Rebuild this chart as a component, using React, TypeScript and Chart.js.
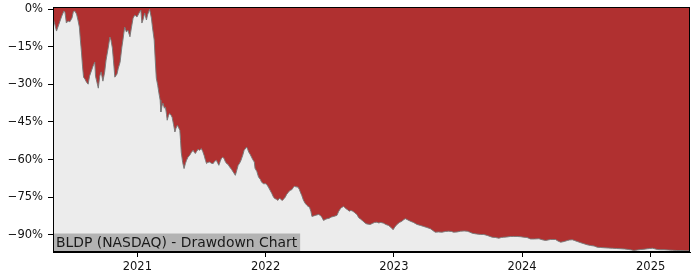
import React, { useEffect, useRef } from "react";
import { Chart, registerables } from "chart.js";

Chart.register(...registerables);

// Days since 2021-01-01
const dayOffsets = [
  -239, -235, -230, -226, -220, -215, -209, -206, -202, -197,
  -192, -186, -182, -178, -173, -169, -165, -162, -159, -156,
  -153, -149, -145, -140, -136, -132, -126, -121, -119, -115,
  -111, -107, -103, -98, -93, -89, -83, -78, -75, -71,
  -68, -64, -58, -54, -49, -44, -41, -36, -31, -27,
  -21, -17, -12, -7, -1, 5, 10, 13, 16, 21,
  26, 29, 35, 40, 43, 48, 51, 54, 58, 61,
  65, 67, 70, 73, 77, 80, 83, 85, 89, 92,
  96, 99, 103, 107, 110, 114, 117, 121, 123, 125,
  129, 133, 137, 140, 144, 149, 154, 159, 162, 165,
  169, 173, 177, 182, 186, 190, 194, 197, 201, 206,
  211, 216, 220, 225, 229, 232, 236, 239, 243, 247,
  250, 254, 258, 263, 268, 273, 279, 283, 287, 291,
  295, 300, 304, 311, 314, 317, 321, 325, 328, 333,
  335, 340, 345, 350, 354, 360, 364, 368, 373, 378,
  383, 388, 392, 397, 400, 404, 407, 410, 413, 418,
  421, 425, 430, 435, 440, 444, 447, 452, 457, 461,
  464, 468, 473, 478, 483, 486, 490, 494, 497, 502,
  506, 511, 516, 521, 525, 530, 535, 540, 545, 549,
  553, 559, 563, 568, 573, 578, 582, 587, 590, 594,
  599, 603, 608, 613, 618, 620, 625, 630, 635, 640,
  645, 651, 657, 663, 669, 675, 682, 687, 693, 701,
  707, 715, 722, 728, 733, 739, 746, 753, 759, 763,
  770, 777, 786, 796, 806, 815, 824, 834, 841, 848,
  857, 867, 877, 886, 894, 900, 910, 920, 930, 939,
  945, 953, 965, 977, 986, 996, 1004, 1010, 1019, 1029,
  1036, 1043, 1052, 1062, 1071, 1081, 1091, 1100, 1109, 1119,
  1130, 1143, 1152, 1162, 1169, 1176, 1183, 1190, 1197, 1205,
  1215, 1224, 1230, 1238, 1244, 1252, 1262, 1271, 1280, 1290,
  1300, 1309, 1319, 1328, 1340, 1352, 1364, 1376, 1387, 1399,
  1407, 1413, 1423, 1433, 1442, 1452, 1458, 1466, 1472, 1480,
  1490, 1499, 1511, 1523, 1535, 1547, 1558, 1571,
];

// Drawdown from running peak, percent
const drawdownPct = [
  -3.9, -5.9, -8.7, -7.1, -4.7, -2.7, -0.7, -1.1, -5.5, -4.7,
  -5.0, -3.5, -0.9, -0.7, -1.9, -4.3, -7.1, -12.3, -17.1, -22.7,
  -27.1, -27.9, -29.0, -29.9, -26.7, -25.1, -22.7, -21.1, -26.7, -29.1,
  -31.5, -26.7, -25.0, -28.7, -25.1, -20.3, -15.5, -11.1, -12.3, -15.5,
  -20.3, -27.1, -25.9, -23.5, -21.1, -15.1, -12.3, -7.1, -9.1, -8.3,
  -11.0, -7.5, -3.5, -2.3, -3.1, -1.5, -0.3, -5.5, -4.3, -1.5,
  -4.3, -2.3, 0, -3.5, -7.1, -12.3, -20.3, -27.5, -30.3, -33.1,
  -36.3, -41.0, -38.7, -37.5, -39.5, -39.0, -41.9, -44.3, -42.3, -41.6,
  -42.3, -43.1, -45.9, -49.0, -47.5, -46.3, -47.1, -48.3, -52.3, -57.1,
  -61.1, -63.6, -61.5, -60.3, -59.1, -58.3, -57.1, -56.3, -57.1, -57.6,
  -56.7, -55.9, -56.3, -55.6, -56.7, -58.3, -60.3, -61.6, -61.1, -61.0,
  -61.5, -61.6, -60.7, -60.3, -61.5, -62.3, -60.7, -59.6, -59.1, -59.6,
  -60.7, -61.6, -61.9, -63.0, -63.9, -65.0, -66.3, -64.3, -62.3, -61.5,
  -60.3, -58.3, -56.3, -55.0, -55.9, -57.0, -57.9, -59.0, -59.9, -61.0,
  -63.5, -64.7, -67.0, -67.9, -69.1, -69.7, -69.6, -69.9, -71.0, -72.3,
  -73.6, -75.1, -75.6, -75.9, -76.3, -75.5, -75.6, -76.1, -76.3, -75.5,
  -75.0, -73.9, -73.0, -72.3, -72.0, -71.1, -70.7, -70.9, -71.0, -71.9,
  -73.0, -74.3, -76.3, -77.5, -78.3, -78.7, -79.0, -80.7, -82.7, -82.5,
  -82.3, -82.1, -81.9, -82.3, -83.0, -84.3, -83.9, -83.6, -83.5, -83.2,
  -82.9, -82.7, -82.5, -82.3, -80.7, -79.6, -79.1, -78.7, -79.1, -79.6,
  -80.1, -80.6, -80.3, -80.6, -81.1, -81.4, -81.9, -83.2, -83.7, -84.3,
  -84.9, -85.6, -85.8, -85.9, -85.5, -85.1, -85.0, -85.3, -85.1, -85.4,
  -85.9, -86.3, -87.1, -88.0, -86.9, -85.9, -85.1, -84.6, -83.9, -83.6,
  -84.1, -84.6, -85.1, -85.9, -86.3, -86.7, -87.1, -87.6, -88.3, -89.0,
  -88.9, -89.0, -88.7, -88.6, -88.7, -89.0, -88.9, -88.6, -88.5, -88.6,
  -88.9, -89.4, -89.7, -89.9, -89.9, -90.3, -90.7, -91.0, -91.1, -91.4,
  -91.1, -91.0, -90.9, -90.7, -90.7, -90.7, -90.8, -91.0, -91.1, -91.7,
  -91.7, -91.6, -92.0, -92.3, -92.1, -91.9, -91.9, -91.9, -92.5, -93.0,
  -92.7, -92.3, -92.1, -92.0, -92.3, -92.7, -93.2, -93.6, -94.0, -94.3,
  -94.5, -95.0, -95.1, -95.2, -95.3, -95.4, -95.5, -95.6, -95.7, -95.9,
  -96.1, -96.3, -96.1, -95.9, -95.8, -95.6, -95.5, -95.4, -95.6, -95.9,
  -96.0, -96.0, -96.1, -96.2, -96.3, -96.3, -96.4, -96.4,
];

const yearTickDays = [0, 365, 730, 1095, 1461];
const yearTickLabels = ["2021", "2022", "2023", "2024", "2025"];
const pctTicks = [0, -15, -30, -45, -60, -75, -90];
const chartLabel = "BLDP (NASDAQ) - Drawdown Chart";

const FONT = "'DejaVu Sans', sans-serif";

const framePlugin = {
  id: "frameAndLabel",
  beforeDraw(chart: any) {
    const { ctx, chartArea: a, width, height } = chart;
    ctx.save();
    ctx.fillStyle = "#ffffff";
    ctx.fillRect(0, 0, width, height);
    ctx.fillStyle = "#ececec";
    ctx.fillRect(a.left, a.top, a.right - a.left, a.bottom - a.top);
    ctx.restore();
  },
  afterDraw(chart: any) {
    const { ctx, chartArea: a } = chart;
    ctx.save();
    ctx.font = `13.9px ${FONT}`;
    const tw = ctx.measureText(chartLabel).width;
    const boxTop = a.bottom - 18.5;
    ctx.fillStyle = "#b3b3b3";
    ctx.fillRect(a.left, boxTop, tw + 6, a.bottom - boxTop);
    ctx.fillStyle = "#1a1a1a";
    ctx.textBaseline = "alphabetic";
    ctx.fillText(chartLabel, a.left + 3, a.bottom - 5);
    ctx.strokeStyle = "#000000";
    ctx.lineWidth = 1;
    ctx.strokeRect(
      Math.round(a.left) + 0.5,
      Math.round(a.top) + 0.5,
      Math.round(a.right - a.left) - 1,
      Math.round(a.bottom - a.top) - 1
    );
    ctx.restore();
  },
};

export default function App() {
  const ref = useRef<HTMLCanvasElement | null>(null);

  useEffect(() => {
    if (!ref.current) return;
    const n = Math.min(dayOffsets.length, drawdownPct.length);
    const points = [];
    for (let i = 0; i < n; i++) points.push({ x: dayOffsets[i], y: drawdownPct[i] });

    const chart = new Chart(ref.current, {
      type: "line",
      data: {
        datasets: [
          {
            data: points,
            borderColor: "rgba(120,120,120,0.95)",
            borderWidth: 1,
            backgroundColor: "#b03030",
            fill: "end",
            pointRadius: 0,
            tension: 0,
          },
        ],
      },
      options: {
        animation: false,
        responsive: false,
        maintainAspectRatio: false,
        layout: { padding: { left: 0, top: 7, right: 10, bottom: 0 } },
        plugins: { legend: { display: false }, tooltip: { enabled: false } },
        scales: {
          x: {
            type: "linear",
            min: -240,
            max: 1573,
            afterFit: (s: any) => {
              s.height = 28;
              s.paddingLeft = 0;
              s.paddingRight = 0;
            },
            afterBuildTicks: (s: any) => {
              s.ticks = yearTickDays.map((v) => ({ value: v }));
            },
            ticks: {
              autoSkip: false,
              maxRotation: 0,
              padding: 3,
              color: "#111",
              font: { family: FONT, size: 11.5 },
              callback: (v: any) => {
                const i = yearTickDays.indexOf(Number(v));
                return i >= 0 ? yearTickLabels[i] : "";
              },
            },
            grid: { display: true, drawOnChartArea: false, drawTicks: true, tickLength: 5, color: "#000" },
            border: { display: true, color: "#000" },
          },
          y: {
            type: "linear",
            min: -96.9,
            max: 0.9,
            afterFit: (s: any) => {
              s.width = 53;
              s.paddingTop = 0;
              s.paddingBottom = 0;
            },
            afterBuildTicks: (s: any) => {
              s.ticks = pctTicks.map((v) => ({ value: v }));
            },
            ticks: {
              autoSkip: false,
              padding: 5,
              color: "#111",
              font: { family: FONT, size: 11.5 },
              callback: (v: any) => {
                const num = Number(v);
                return (num < 0 ? "\u2212" + Math.abs(num) : String(num)) + "%";
              },
            },
            grid: { display: true, drawOnChartArea: false, drawTicks: true, tickLength: 5, color: "#000" },
            border: { display: true, color: "#000" },
          },
        },
      },
      plugins: [framePlugin],
    });
    return () => chart.destroy();
  }, []);

  return (
    <div style={{ position: "fixed", left: 0, top: 0, width: 700, height: 280, background: "#fff" }}>
      <canvas ref={ref} width={700} height={280} style={{ display: "block", width: 700, height: 280 }} />
    </div>
  );
}
